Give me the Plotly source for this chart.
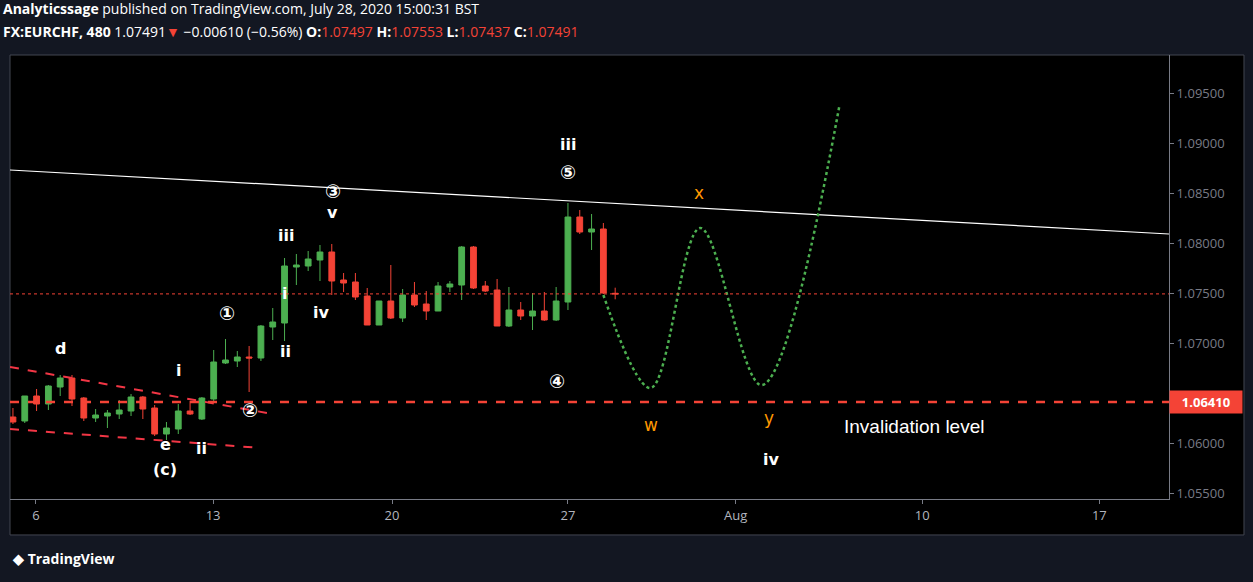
import plotly.graph_objects as go

# --- OHLC data (8h bars) ---
opens = [1.0626, 1.0622, 1.0647, 1.0639, 1.0656, 1.0665, 1.0645, 1.0625, 1.0627, 1.0629,
         1.0632, 1.0646, 1.0635, 1.0609, 1.0614, 1.0632, 1.0624, 1.0644, 1.0680, 1.0682,
         1.0686, 1.0685, 1.0716, 1.0720, 1.0776, 1.0777, 1.0783, 1.0791, 1.0763, 1.0761,
         1.0747, 1.0718, 1.0742, 1.0725, 1.0748, 1.0739, 1.0732, 1.0756, 1.0758, 1.0796,
         1.0757, 1.0753, 1.0717, 1.0733, 1.0727, 1.0732, 1.0723, 1.0741, 1.0826, 1.0811,
         1.0814, 1.07497]
highs = [1.0635, 1.0647, 1.0654, 1.0658, 1.0668, 1.0668, 1.0646, 1.0634, 1.0633, 1.0643,
         1.0649, 1.0647, 1.0638, 1.0621, 1.0639, 1.0642, 1.0646, 1.0693, 1.0704, 1.0692,
         1.0697, 1.0718, 1.0735, 1.0785, 1.0789, 1.0792, 1.0798, 1.0799, 1.0770, 1.0770,
         1.0755, 1.0742, 1.0778, 1.0754, 1.0761, 1.0752, 1.0761, 1.0762, 1.0797, 1.0797,
         1.0762, 1.0764, 1.0756, 1.0741, 1.0750, 1.0751, 1.0756, 1.0840, 1.0833, 1.0829,
         1.0820, 1.07553]
lows = [1.0619, 1.0620, 1.0632, 1.0633, 1.0647, 1.0637, 1.0622, 1.0621, 1.0615, 1.0624,
        1.0627, 1.0624, 1.0607, 1.0603, 1.0609, 1.0628, 1.0623, 1.0642, 1.0679, 1.0676,
        1.0651, 1.0682, 1.0703, 1.0702, 1.0758, 1.0772, 1.0762, 1.0748, 1.0751, 1.0743,
        1.0718, 1.0718, 1.0724, 1.0721, 1.0736, 1.0723, 1.0732, 1.0751, 1.0743, 1.0754,
        1.0751, 1.0717, 1.0716, 1.0723, 1.0713, 1.0722, 1.0722, 1.0733, 1.0809, 1.0793,
        1.0749, 1.07437]
closes = [1.0621, 1.0647, 1.0639, 1.0657, 1.0665, 1.0644, 1.0625, 1.0628, 1.0630, 1.0633,
          1.0646, 1.0634, 1.0609, 1.0615, 1.0632, 1.0629, 1.0645, 1.0681, 1.0683, 1.0686,
          1.0685, 1.0717, 1.0721, 1.0777, 1.0778, 1.0784, 1.0791, 1.0762, 1.0760, 1.0746,
          1.0718, 1.0742, 1.0725, 1.0748, 1.0738, 1.0732, 1.0757, 1.0759, 1.0796, 1.0755,
          1.0752, 1.0717, 1.0733, 1.0727, 1.0732, 1.0723, 1.0742, 1.0826, 1.0811, 1.0814,
          1.0750, 1.07491]
bars = list(range(1, len(opens) + 1))

# --- x axis labels (bar index positions) ---
tick_pos = [2.95, 17.95, 33.1, 48.0, 62.2, 78.0, 93.0]
tick_text = ["6", "13", "20", "27", "Aug", "10", "17"]
price_ticks = [1.055, 1.06, 1.07, 1.075, 1.08, 1.085, 1.09, 1.095]

# --- projected path (dotted green) ---
proj_x = [51, 55, 59.2, 64.4, 71]
proj_y = [1.0748, 1.0655, 1.0815, 1.0658, 1.0938]

# --- trend lines ---
trend_x = [0.75, 98.9]
trend_y = [1.0873, 1.0809]
upper_wedge_x = [0.75, 23]
upper_wedge_y = [1.0676, 1.0629]
lower_wedge_x = [0.75, 22]
lower_wedge_y = [1.0614, 1.0595]

invalidation = 1.06410
last_close = 1.07491

# --- wave labels ---
white_labels = [
    ("d", 5.0, 1.0695), ("i", 15.0, 1.0673), ("e", 13.9, 1.0599), ("(c)", 13.9, 1.0574),
    ("ii", 17.0, 1.0595), ("ii", 24.1, 1.0692),
    ("i", 24.0, 1.0750), ("iii", 24.1, 1.0808), ("v", 28.1, 1.0831),
    ("iv", 27.1, 1.0731), ("iii", 48.0, 1.0899), ("iv", 65.2, 1.0584),
]
circled_labels = [("①", 19.1, 1.0730), ("②", 21.1, 1.0633), ("③", 28.1, 1.0852),
                  ("⑤", 48.0, 1.0871), ("④", 47.1, 1.0662)]
orange_labels = [("x", 59.1, 1.0850), ("w", 55.0, 1.0618), ("y", 65.0, 1.0625)]

fig = go.Figure()

fig.add_trace(go.Candlestick(
    x=bars, open=opens, high=highs, low=lows, close=closes,
    increasing=dict(line=dict(color="#4caf50", width=1), fillcolor="#4caf50"),
    decreasing=dict(line=dict(color="#f44336", width=1), fillcolor="#f44336"),
    whiskerwidth=0, showlegend=False,
))

fig.add_trace(go.Scatter(x=trend_x, y=trend_y, mode="lines",
                         line=dict(color="white", width=1.2), showlegend=False))
for wx, wy in [(upper_wedge_x, upper_wedge_y), (lower_wedge_x, lower_wedge_y)]:
    fig.add_trace(go.Scatter(x=wx, y=wy, mode="lines",
                             line=dict(color="#f23645", width=2, dash="dash"), showlegend=False))
fig.add_trace(go.Scatter(x=proj_x, y=proj_y, mode="lines",
                         line=dict(color="#4caf50", width=2.5, dash="dot", shape="spline", smoothing=1.0),
                         showlegend=False))

fig.add_hline(y=invalidation, line=dict(color="#f44336", width=2.5, dash="dash"))
fig.add_hline(y=last_close, line=dict(color="#f44336", width=1, dash="dot"))

for t, x, y in white_labels:
    fig.add_annotation(x=x, y=y, text="<b>" + t + "</b>", showarrow=False,
                       font=dict(color="white", size=16, family="DejaVu Sans"))
for t, x, y in circled_labels:
    fig.add_annotation(x=x, y=y, text="<b>" + t + "</b>", showarrow=False,
                       font=dict(color="white", size=19, family="DejaVu Sans"))
for t, x, y in orange_labels:
    fig.add_annotation(x=x, y=y, text=t, showarrow=False,
                       font=dict(color="#ff9800", size=17, family="DejaVu Sans"))
fig.add_annotation(x=77.3, y=1.0617, text="Invalidation level", showarrow=False,
                   font=dict(color="white", size=19, family="Liberation Sans"))

# price label box on the axis
fig.add_annotation(xref="paper", x=1.0, xanchor="left", y=invalidation, text="<b>1.06410</b>",
                   showarrow=False, bgcolor="#f44336", width=70, height=20,
                   font=dict(color="white", size=13, family="Open Sans"))

# header
fig.add_annotation(xref="paper", yref="paper", x=-0.008, y=1.105, xanchor="left", yanchor="middle",
                   text="<b>Analyticssage</b> published on TradingView.com, July 28, 2020 15:00:31 BST",
                   showarrow=False, font=dict(color="white", size=14, family="Open Sans"))
fig.add_annotation(xref="paper", yref="paper", x=-0.008, y=1.053, xanchor="left", yanchor="middle",
                   text="<b>FX:EURCHF, 480</b> 1.07491<span style='color:#f44336'>▼</span> −0.00610 (−0.56%) "
                        "<b>O:</b><span style='color:#f44336'>1.07497</span> "
                        "<b>H:</b><span style='color:#f44336'>1.07553</span> "
                        "<b>L:</b><span style='color:#f44336'>1.07437</span> "
                        "<b>C:</b><span style='color:#f44336'>1.07491</span>",
                   showarrow=False, font=dict(color="white", size=14, family="Open Sans"))
fig.add_annotation(xref="paper", yref="paper", x=0.0, y=-0.133, xanchor="left", yanchor="middle",
                   text="<b>◆ TradingView</b>", showarrow=False,
                   font=dict(color="white", size=14, family="Open Sans"))

# black chart panel behind the plot
fig.add_shape(type="rect", xref="paper", yref="paper", x0=0, x1=1.0647, y0=-0.081, y1=1.0,
              fillcolor="black", line=dict(color="#434651", width=1), layer="below")

fig.update_layout(
    width=1253, height=582,
    paper_bgcolor="#131722", plot_bgcolor="black",
    margin=dict(l=10, r=84, t=55, b=83),
    xaxis=dict(range=[0.75, 98.9], tickvals=tick_pos, ticktext=tick_text, showgrid=False,
               zeroline=False, rangeslider=dict(visible=False), ticks="outside", ticklen=4,
               tickcolor="#787b86", showline=True, linecolor="#787b86", mirror=False,
               tickfont=dict(color="#b2b5be", size=13, family="Open Sans")),
    yaxis=dict(range=[1.0544, 1.0988], side="right", showgrid=False, zeroline=False,
               tickvals=price_ticks,
               tickformat=".5f", ticks="outside", ticklen=4, tickcolor="#787b86",
               showline=True, linecolor="#787b86",
               tickfont=dict(color="#787b86", size=13, family="Open Sans")),
)

fig.write_html("out.html", config={"displayModeBar": False},
               post_script="document.body.style.margin='0';document.body.style.overflow='hidden';")
